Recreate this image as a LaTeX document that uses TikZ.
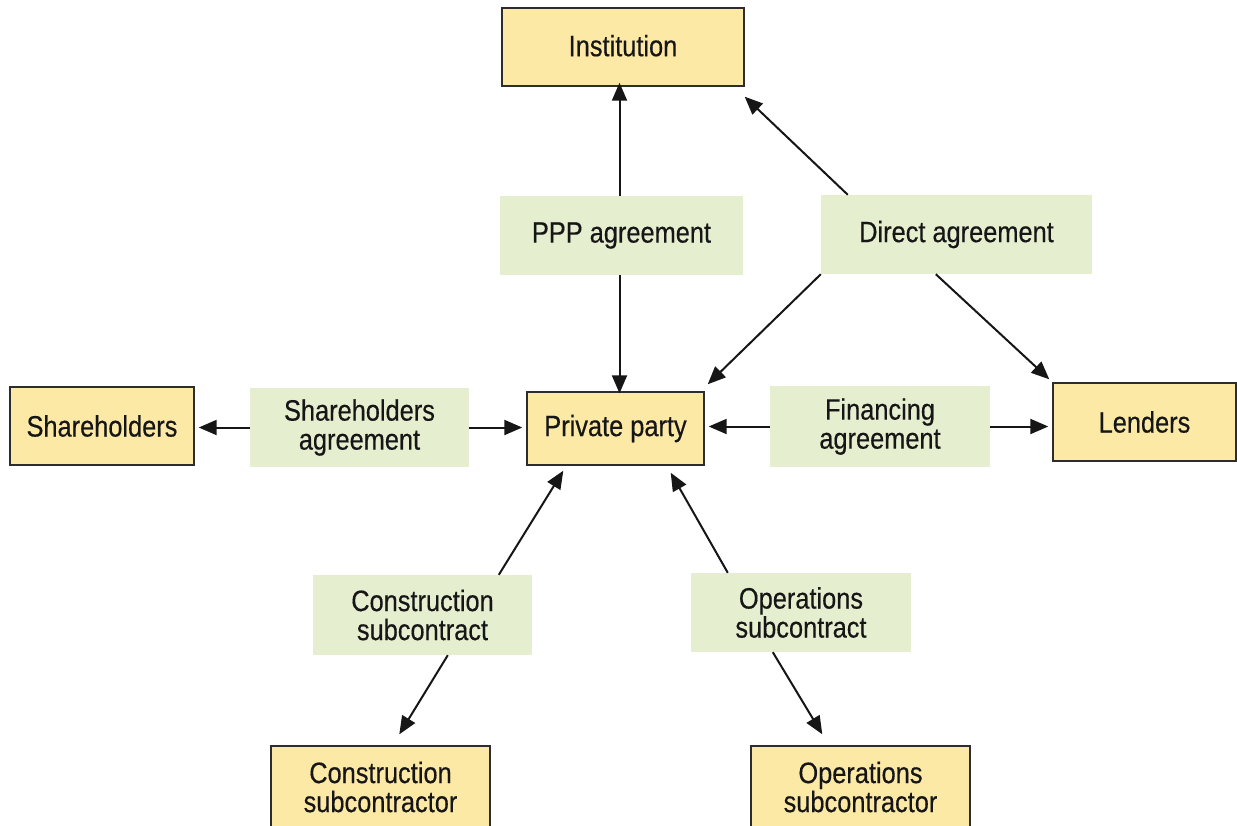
\documentclass[tikz,border=0pt]{standalone}
\usepackage{fontspec}
\setmainfont{Liberation Sans}[FakeStretch=0.86,FakeBold=0.4]
\usetikzlibrary{arrows.meta}
\definecolor{partyfill}{HTML}{FDE9A6}
\definecolor{dealfill}{HTML}{E5EFD0}
\definecolor{inkcol}{HTML}{161616}
\tikzset{
  party/.style={draw=inkcol!90, line width=1.4pt, fill=partyfill, inner sep=0pt,
    align=center, text=inkcol, font=\fontsize{29.5}{29}\selectfont},
  deal/.style={fill=dealfill, inner sep=0pt, align=center, text=inkcol,
    font=\fontsize{29.5}{29}\selectfont},
  link/.style={draw=inkcol, line width=2pt, -{Triangle[length=18pt,width=15pt]}},
}
\begin{document}
\begin{tikzpicture}[x=1pt,y=-1pt]
\useasboundingbox (0,0) rectangle (1237,825);
\clip (0,0) rectangle (1237,825);
\fill[white] (0,0) rectangle (1237,825);

% parties
\node[party, minimum width=242, minimum height=78] (inst) at (623,47) {\raisebox{3pt}{Institution}};
\node[party, minimum width=184, minimum height=78] (sh) at (102,426) {Shareholders};
\node[party, minimum width=177, minimum height=73] (pp) at (615.5,428.5) {Private party};
\node[party, minimum width=183, minimum height=78] (lend) at (1144.5,422) {Lenders};
\node[party, minimum width=219, minimum height=82] (cs) at (380.5,787) {Construction\\subcontractor};
\node[party, minimum width=219, minimum height=82] (os) at (860.5,787) {Operations\\subcontractor};

% agreements
\node[deal, minimum width=243, minimum height=79] (ppp) at (621.5,235.5) {PPP agreement};
\node[deal, minimum width=271, minimum height=79] (direct) at (956.5,234.5) {Direct agreement};
\node[deal, minimum width=219, minimum height=79] (sha) at (359.5,427.5) {Shareholders\\agreement};
\node[deal, minimum width=220, minimum height=81] (fin) at (880,426.5) {Financing\\agreement};
\node[deal, minimum width=219, minimum height=80] (csa) at (422.5,615) {Construction\\subcontract};
\node[deal, minimum width=220, minimum height=79] (osa) at (801,612.5) {Operations\\subcontract};

% PPP agreement
\draw[link] ([xshift=-2]ppp.north) -- ([xshift=-2,yshift=4]ppp.north |- inst.south);
\draw[link] ([xshift=-2]ppp.south) -- ([xshift=-2,yshift=-2]ppp.south |- pp.north);
% direct agreement
\draw[link] ([xshift=27]direct.north west) -- ([shift={(0,10)}]inst.south east);
\draw[link] (direct.south west) -- ([shift={(3,-7)}]pp.north east);
\draw[link] ([xshift=115]direct.south west) -- ([shift={(-3,-3)}]lend.north west);
% shareholders agreement
\draw[link] (sha.west) -- ([xshift=4]sha.west -| sh.east);
\draw[link] (sha.east) -- ([xshift=-4]sha.east -| pp.west);
% financing agreement
\draw[link] (fin.west) -- ([xshift=4]fin.west -| pp.east);
\draw[link] (fin.east) -- ([xshift=-4]fin.east -| lend.west);
% construction subcontract
\draw[link] ([xshift=186]csa.north west) -- ([shift={(37,5)}]pp.south west);
\draw[link] ([xshift=135]csa.south west) -- ([shift={(129,-11)}]cs.north west);
% operations subcontract
\draw[link] ([xshift=37]osa.north west) -- ([shift={(-34,7)}]pp.south east);
\draw[link] ([xshift=82]osa.south west) -- ([shift={(72,-11)}]os.north west);
\end{tikzpicture}
\end{document}
